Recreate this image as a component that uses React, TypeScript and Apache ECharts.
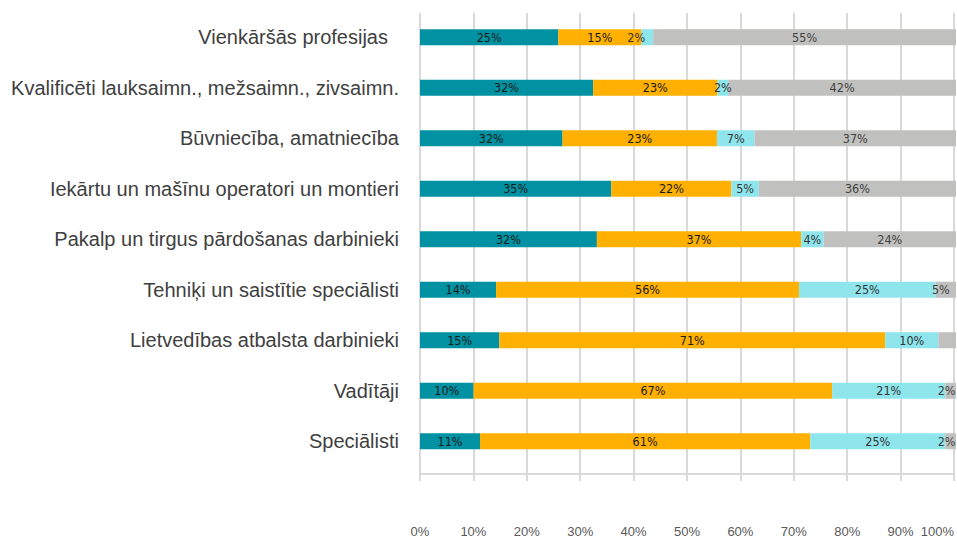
import React, { useEffect, useRef } from "react";
import * as echarts from "echarts";

const categories = [
  "Vienkāršās profesijas",
  "Kvalificēti lauksaimn., mežsaimn., zivsaimn.",
  "Būvniecība, amatniecība",
  "Iekārtu un mašīnu operatori un montieri",
  "Pakalp un tirgus pārdošanas darbinieki",
  "Tehniķi un saistītie speciālisti",
  "Lietvedības atbalsta darbinieki",
  "Vadītāji",
  "Speciālisti",
];

// bar lengths (share of row, %)
const tealShare = [25.8, 32.3, 26.6, 35.7, 33.0, 14.2, 14.8, 10.0, 11.2];
const orangeShare = [15.5, 23.2, 28.8, 22.4, 38.1, 56.5, 72.0, 66.9, 61.6];
const cyanShare = [2.2, 2.0, 7.0, 5.1, 4.2, 25.5, 9.9, 21.1, 25.2];
const grayShare = [56.5, 42.5, 37.6, 36.8, 24.7, 3.8, 3.3, 2.0, 2.0];

// printed data labels (%)
const tealLabels = [25, 32, 32, 35, 32, 14, 15, 10, 11];
const orangeLabels = [15, 23, 23, 22, 37, 56, 71, 67, 61];
const cyanLabels = [2, 2, 7, 5, 4, 25, 10, 21, 25];
const grayLabels: (number | null)[] = [55, 42, 37, 36, 24, 5, null, 2, 2];

const xTicks = [0, 10, 20, 30, 40, 50, 60, 70, 80, 90, 100];

const colors = ["#0092A2", "#FFB000", "#8EE6EC", "#C0C0BE"];

const W = 957;
const H = 539;

export default function App() {
  const ref = useRef<HTMLDivElement>(null);
  useEffect(() => {
    if (!ref.current) return;
    const chart = echarts.init(ref.current, undefined, {
      renderer: "svg",
      width: W,
      height: H,
    });

    const mk = (
      name: string,
      shares: number[],
      labels: (number | null)[],
      color: string,
      textColor: string,
      offsets: Record<number, [number, number]> = {}
    ) => ({
      type: "bar",
      name,
      stack: "total",
      xAxisIndex: 0,
      yAxisIndex: 0,
      barWidth: 16,
      itemStyle: { color },
      label: {
        show: true,
        position: "inside",
        color: textColor,
        fontSize: 12.5,
        fontFamily: "DejaVu Sans Condensed, DejaVu Sans",
        formatter: (p: any) =>
          labels[p.dataIndex] == null ? "" : `${labels[p.dataIndex]}%`,
      },
      data: shares.map((v, i) => {
        const item: any = { value: v };
        if (labels[i] == null) item.label = { show: false };
        else if (offsets[i]) item.label = { offset: offsets[i] };
        return item;
      }),
    });

    chart.setOption({
      animation: false,
      backgroundColor: "#ffffff",
      grid: [
        { left: 420, right: 1, top: 12, height: 454.5, containLabel: false },
        { left: 420, right: 1, top: 13, bottom: 65, containLabel: false },
      ],
      xAxis: [
        {
          gridIndex: 0,
          type: "value",
          min: 0,
          max: 100,
          interval: 10,
          show: false,
        },
        {
          gridIndex: 1,
          type: "value",
          min: xTicks[0],
          max: xTicks[xTicks.length - 1],
          interval: 10,
          axisLine: { show: true, lineStyle: { color: "#D9D9D9", width: 2 } },
          axisTick: {
            show: true,
            length: 7,
            lineStyle: { color: "#D9D9D9", width: 2 },
          },
          splitLine: { show: true, lineStyle: { color: "#D9D9D9", width: 2 } },
          axisLabel: {
            formatter: "{value}%",
            color: "#595959",
            fontSize: 13,
            fontFamily: "Liberation Sans, Arial, sans-serif",
            margin: 51,
            alignMaxLabel: "right",
          },
        },
      ],
      yAxis: [
        {
          gridIndex: 0,
          type: "category",
          inverse: true,
          data: categories,
          axisLine: { show: false },
          axisTick: { show: false },
          splitLine: { show: false },
          axisLabel: {
            margin: 21,
            color: "#404040",
            fontSize: 20,
            fontFamily: "Liberation Sans, Arial, sans-serif",
            formatter: (v: string) =>
              v === categories[0] ? `{p|${v}}` : v,
            rich: {
              p: {
                color: "#404040",
                fontSize: 20,
                fontFamily: "Liberation Sans, Arial, sans-serif",
                padding: [0, 11, 0, 0],
              },
            },
          },
        },
        {
          gridIndex: 1,
          type: "value",
          show: false,
        },
      ],
      series: [
        mk("A", tealShare, tealLabels, colors[0], "#1a1a1a"),
        mk("B", orangeShare, orangeLabels, colors[1], "#1a1a1a"),
        mk("C", cyanShare, cyanLabels, colors[2], "#333333", { 0: [-11, 0] }),
        mk("D", grayShare, grayLabels, colors[3], "#404040", {
          5: [-5, 0],
          7: [-4, 0],
          8: [-4, 0],
        }),
      ],
    });
    return () => chart.dispose();
  }, []);
  return (
    <div
      ref={ref}
      style={{ position: "fixed", left: 0, top: 0, width: W, height: H }}
    />
  );
}
